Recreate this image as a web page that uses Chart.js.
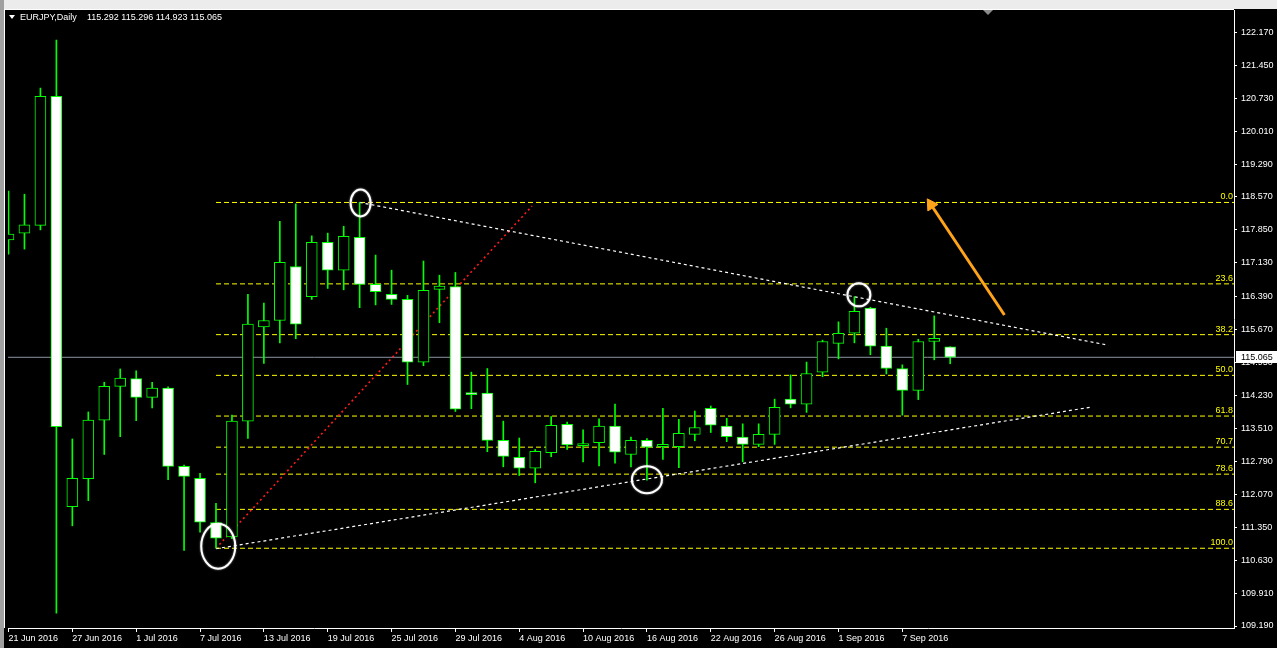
<!DOCTYPE html>
<html>
<head>
<meta charset="utf-8">
<title>EURJPY,Daily</title>
<script src="https://cdn.jsdelivr.net/npm/chart.js@4.4.0/dist/chart.umd.min.js"></script>
<style>
  html, body { margin: 0; padding: 0; background: #000; overflow: hidden; }
  #chart { display: block; }
</style>
</head>
<body>
<canvas id="chart" width="1277" height="648"></canvas>
<script>
// Data
var symbol = "EURJPY,Daily";
var dates = [
  "21 Jun 2016", "22 Jun 2016", "23 Jun 2016", "24 Jun 2016", "27 Jun 2016",
  "28 Jun 2016", "29 Jun 2016", "30 Jun 2016", "1 Jul 2016", "4 Jul 2016",
  "5 Jul 2016", "6 Jul 2016", "7 Jul 2016", "8 Jul 2016", "11 Jul 2016",
  "12 Jul 2016", "13 Jul 2016", "14 Jul 2016", "15 Jul 2016", "18 Jul 2016",
  "19 Jul 2016", "20 Jul 2016", "21 Jul 2016", "22 Jul 2016", "25 Jul 2016",
  "26 Jul 2016", "27 Jul 2016", "28 Jul 2016", "29 Jul 2016", "1 Aug 2016",
  "2 Aug 2016", "3 Aug 2016", "4 Aug 2016", "5 Aug 2016", "8 Aug 2016",
  "9 Aug 2016", "10 Aug 2016", "11 Aug 2016", "12 Aug 2016", "15 Aug 2016",
  "16 Aug 2016", "17 Aug 2016", "18 Aug 2016", "19 Aug 2016", "22 Aug 2016",
  "23 Aug 2016", "24 Aug 2016", "25 Aug 2016", "26 Aug 2016", "29 Aug 2016",
  "30 Aug 2016", "31 Aug 2016", "1 Sep 2016", "2 Sep 2016", "5 Sep 2016",
  "6 Sep 2016", "7 Sep 2016", "8 Sep 2016", "9 Sep 2016", "12 Sep 2016",
];
var open = [
  117.63, 117.78, 117.95, 120.77, 111.80, 112.41, 113.69, 114.43, 114.60, 114.19,
  114.39, 112.68, 112.42, 111.45, 111.14, 113.67, 115.73, 115.87, 117.05, 116.39,
  117.58, 116.97, 117.69, 116.66, 116.44, 116.33, 114.96, 116.55, 116.61, 114.26,
  114.28, 113.25, 112.88, 112.64, 112.98, 113.60, 113.13, 113.20, 113.56, 112.94,
  113.25, 113.11, 113.11, 113.38, 113.95, 113.56, 113.32, 113.16, 113.38, 114.15,
  114.04, 114.74, 115.37, 115.59, 116.14, 115.31, 114.82, 114.34, 115.41, 115.292,
];
var high = [
  118.70, 118.63, 120.95, 122.00, 113.28, 113.87, 114.52, 114.81, 114.77, 114.52,
  114.42, 112.71, 112.53, 111.87, 113.80, 116.44, 116.25, 118.04, 118.42, 117.72,
  117.78, 117.93, 118.45, 117.30, 116.97, 116.42, 117.17, 116.86, 116.92, 114.74,
  114.82, 113.67, 113.30, 113.05, 113.77, 113.65, 113.48, 113.72, 114.04, 113.32,
  113.29, 113.95, 113.71, 113.89, 114.00, 113.73, 113.61, 113.61, 114.15, 114.68,
  114.96, 115.44, 115.84, 116.39, 116.16, 115.70, 114.90, 115.46, 115.97, 115.296,
];
var low = [
  117.32, 117.43, 117.85, 109.47, 111.38, 111.93, 112.94, 113.33, 113.68, 113.96,
  112.39, 110.84, 111.24, 110.89, 111.10, 113.29, 114.93, 115.38, 115.47, 116.33,
  116.57, 116.54, 116.15, 116.21, 116.22, 114.47, 114.88, 115.82, 113.88, 113.94,
  113.00, 112.67, 112.48, 112.32, 112.89, 113.05, 112.78, 112.69, 112.75, 112.67,
  112.38, 112.83, 112.65, 113.24, 113.42, 113.22, 112.78, 113.11, 113.16, 113.96,
  113.86, 114.64, 115.03, 115.38, 115.12, 114.70, 113.80, 114.14, 115.01, 114.923,
];
var close = [
  117.76, 117.96, 120.77, 113.55, 112.42, 113.69, 114.43, 114.61, 114.19, 114.39,
  112.68, 112.46, 111.46, 111.11, 113.67, 115.79, 115.87, 117.14, 115.79, 117.58,
  116.97, 117.71, 116.66, 116.50, 116.33, 114.96, 116.53, 116.62, 113.93, 114.25,
  113.25, 112.90, 112.64, 113.01, 113.58, 113.15, 113.18, 113.56, 112.99, 113.25,
  113.10, 113.16, 113.40, 113.53, 113.58, 113.33, 113.16, 113.38, 113.97, 114.04,
  114.71, 115.41, 115.59, 116.07, 115.31, 114.82, 114.34, 115.41, 115.48, 115.065,
];
var xTickIdx = [0, 4, 8, 12, 16, 20, 24, 28, 32, 36, 40, 44, 48, 52, 56];
var yTicks = [
  109.19, 109.91, 110.63, 111.35, 112.07, 112.79, 113.51, 114.23, 114.95, 115.67,
  116.39, 117.13, 117.85, 118.57, 119.29, 120.01, 120.73, 121.45, 122.17,
];

// Fibonacci retracement drawn from the 8 Jul low to the 21 Jul high
var fibStart = 13;
var fibLevels = [118.45, 116.67, 115.56, 114.67, 113.78, 113.10, 112.51, 111.74, 110.89];
var fibLabels = ["0.0", "23.6", "38.2", "50.0", "61.8", "70.7", "78.6", "88.6", "100.0"];

// Trend lines (bar index, price)
var resistX = [22, 68.9];
var resistY = [118.45, 115.33];
var supportX = [13, 67.9];
var supportY = [110.88, 113.98];
var redX = [13, 32.8];
var redY = [110.89, 118.37];
var arrowX = [62.4, 57.8];
var arrowY = [115.99, 118.4];

// Circled swing points (bar index, price)
var circleX = [13.14, 22.06, 40.0, 53.28];
var circleY = [110.935, 118.44, 112.39, 116.43];

// Layout
var xMin = -0.03125;
var xMax = 76.78125;
var yMin = 109.1465;
var yMax = 122.6575;
var circleRadius = [[17, 22.5], [10, 13.5], [15, 13.5], [11.5, 11.5]];
var font = "'Liberation Sans', Arial, sans-serif";
var green = "#00ff00";
var fibColor = "#ffff00";

function pts(xs, ys) {
  return xs.map(function (x, i) {
    return { x: x, y: ys[i] };
  });
}

function lineSet(data, color, dash, order, width) {
  return {
    type: "line",
    data: data,
    borderColor: color,
    borderWidth: width || 1,
    borderDash: dash,
    pointRadius: 0,
    fill: false,
    tension: 0,
    order: order,
  };
}

var datasets = [];

// candle bodies
datasets.push({
  label: "Body",
  data: open.map(function (o, i) {
    return { x: i, y: [o, close[i]] };
  }),
  backgroundColor: open.map(function (o, i) {
    return close[i] >= o ? "#000000" : "#ffffff";
  }),
  borderColor: green,
  borderWidth: 1,
  borderSkipped: false,
  barThickness: 11,
  minBarLength: 2,
  grouped: false,
  clip: 0,
  order: 1,
});

// wicks
datasets.push({
  label: "Wick",
  data: low.map(function (l, i) {
    return { x: i, y: [l, high[i]] };
  }),
  backgroundColor: green,
  borderWidth: 0,
  barThickness: 1,
  grouped: false,
  clip: 0,
  order: 2,
});

// trend lines
datasets.push(lineSet(pts(resistX, resistY), "#ffffff", [3, 3], 3, 1.2));
datasets.push(lineSet(pts(supportX, supportY), "#ffffff", [3, 3], 3, 1.2));
datasets.push(lineSet(pts(redX, redY), "#ff1a1a", [2, 3], 3, 1.6));

// fibo levels
fibLevels.forEach(function (lvl) {
  datasets.push(lineSet(pts([fibStart, xMax], [lvl, lvl]), fibColor, [5, 3], 4));
});

// bid line
datasets.push(lineSet(pts([xMin, xMax], [close[59], close[59]]), "#8a96a3", [], 5));

// orange arrow
datasets.push({
  type: "line",
  data: pts(arrowX, arrowY),
  borderColor: "#ffa31a",
  borderWidth: 3,
  pointRadius: [0, 7],
  pointStyle: "triangle",
  rotation: [0, -33],
  pointBackgroundColor: "#ffa31a",
  pointBorderColor: "#ffa31a",
  pointBorderWidth: 1,
  fill: false,
  order: 0,
});

var chrome = {
  id: "chrome",
  beforeDraw: function (chart) {
    var c = chart.ctx;
    var a = chart.chartArea;
    c.save();
    c.fillStyle = "#000";
    c.fillRect(0, 0, chart.width, chart.height);
    c.fillStyle = "#ececec";
    c.fillRect(0, 0, chart.width, 9);
    c.fillStyle = "#a0a0a0";
    c.fillRect(0, 0, 4, chart.height);
    c.fillStyle = "#ffffff";
    c.fillRect(4, 9, a.right - 4, 1);
    c.fillRect(4, 9, 1, a.bottom - 9);
    c.restore();
  },
  afterDatasetsDraw: function (chart) {
    // circles round the swing points
    var c = chart.ctx;
    var xs = chart.scales.x;
    var ys = chart.scales.y;
    c.save();
    c.strokeStyle = "#ffffff";
    c.lineWidth = 2;
    c.shadowColor = "rgba(255,255,255,0.6)";
    c.shadowBlur = 2;
    circleX.forEach(function (cx, i) {
      c.beginPath();
      c.ellipse(xs.getPixelForValue(cx), ys.getPixelForValue(circleY[i]),
        circleRadius[i][0], circleRadius[i][1], 0, 0, Math.PI * 2);
      c.stroke();
    });
    c.restore();
  },
  afterDraw: function (chart) {
    var c = chart.ctx;
    var a = chart.chartArea;
    var ys = chart.scales.y;
    c.save();
    c.font = "9px " + font;

    // fibo labels
    c.fillStyle = fibColor;
    c.textAlign = "right";
    c.textBaseline = "alphabetic";
    fibLevels.forEach(function (lvl, i) {
      c.fillText(fibLabels[i], a.right - 1, ys.getPixelForValue(lvl) - 3);
    });

    // header
    c.fillStyle = "#ffffff";
    c.textAlign = "left";
    c.textBaseline = "middle";
    c.beginPath();
    c.moveTo(9, 15);
    c.lineTo(15, 15);
    c.lineTo(12, 19);
    c.closePath();
    c.fill();
    c.fillText(symbol, 20, 17.5);
    var last = [open[59], high[59], low[59], close[59]];
    c.fillText(last.map(function (v) { return v.toFixed(3); }).join(" "), 87, 17.5);

    // chart shift marker
    c.fillStyle = "#8c8c8c";
    c.beginPath();
    c.moveTo(983, 10);
    c.lineTo(993, 10);
    c.lineTo(988, 15);
    c.closePath();
    c.fill();

    // bid price box
    var py = Math.round(ys.getPixelForValue(close[59]));
    c.fillStyle = "#ffffff";
    c.fillRect(a.right + 2, py - 6, chart.width - a.right - 2, 12);
    c.fillStyle = "#000000";
    c.fillText(close[59].toFixed(3), a.right + 7, py + 0.5);
    c.restore();
  },
};

var ctx = document.getElementById("chart").getContext("2d");
var chart = new Chart(ctx, {
  type: "bar",
  data: { datasets: datasets },
  options: {
    responsive: false,
    animation: false,
    events: [],
    layout: { padding: { left: 5, top: 10, right: 0, bottom: 0 } },
    plugins: { legend: { display: false }, tooltip: { enabled: false } },
    scales: {
      x: {
        type: "linear",
        position: "bottom",
        min: xMin,
        max: xMax,
        bounds: "data",
        offset: false,
        grid: { display: true, drawOnChartArea: false, drawTicks: true, tickLength: 4, color: "#ffffff", offset: false },
        border: { display: true, color: "#ffffff" },
        ticks: {
          color: "#ffffff",
          font: { family: font, size: 9 },
          align: "start",
          padding: 1,
          autoSkip: false,
          maxRotation: 0,
          minRotation: 0,
          callback: function (v) {
            return dates[v] || "";
          },
        },
        afterBuildTicks: function (s) {
          s.ticks = xTickIdx.map(function (v) { return { value: v }; });
        },
        afterFit: function (s) {
          s.height = 20;
          s.paddingLeft = 0;
          s.paddingRight = 0;
        },
      },
      y: {
        type: "linear",
        position: "right",
        min: yMin,
        max: yMax,
        bounds: "data",
        beginAtZero: false,
        grid: { display: true, drawOnChartArea: false, drawTicks: true, tickLength: 3, color: "#ffffff" },
        border: { display: true, color: "#ffffff" },
        ticks: {
          color: "#ffffff",
          font: { family: font, size: 9 },
          padding: 4,
          autoSkip: false,
          callback: function (v) {
            return v.toFixed(3);
          },
        },
        afterBuildTicks: function (s) {
          s.ticks = yTicks.map(function (v) { return { value: v }; });
        },
        afterFit: function (s) {
          s.width = 43;
          s.paddingTop = 0;
          s.paddingBottom = 0;
        },
      },
    },
  },
  plugins: [chrome],
});
</script>
</body>
</html>
